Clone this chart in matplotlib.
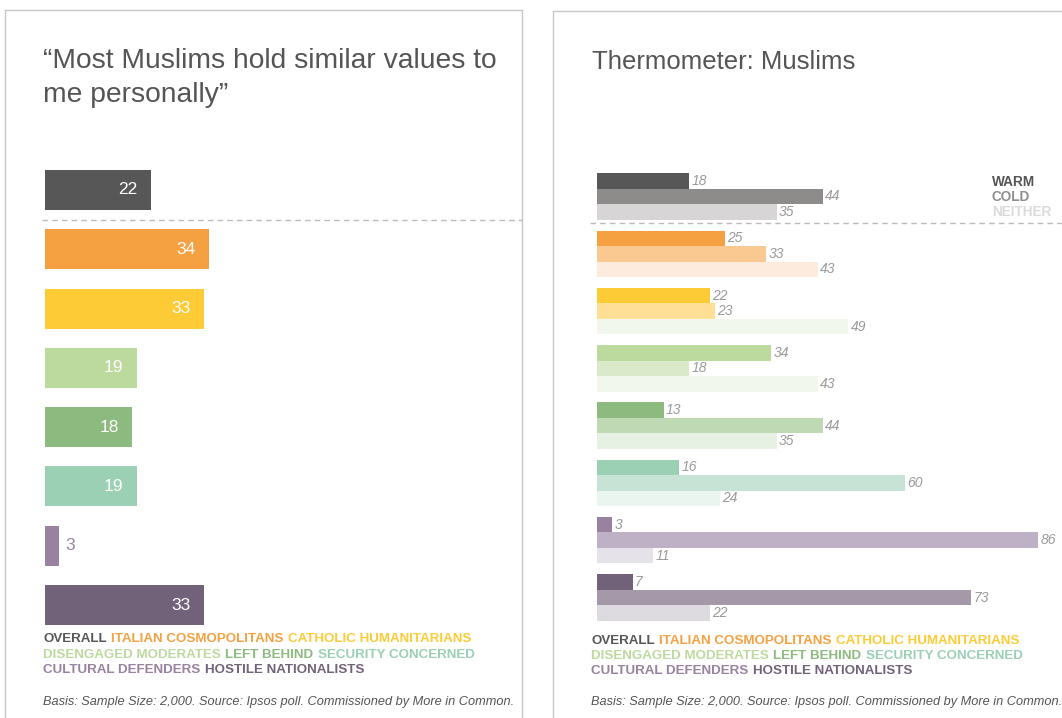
import matplotlib
matplotlib.use("Agg")
import matplotlib.pyplot as plt
from matplotlib.lines import Line2D

plt.rcParams["font.family"] = ["Liberation Sans", "DejaVu Sans"]

W, H = 1062, 718

# ---- data ----
segments = ["OVERALL", "ITALIAN COSMOPOLITANS", "CATHOLIC HUMANITARIANS",
            "DISENGAGED MODERATES", "LEFT BEHIND", "SECURITY CONCERNED",
            "CULTURAL DEFENDERS", "HOSTILE NATIONALISTS"]
similar_values = [22, 34, 33, 19, 18, 19, 3, 33]
warm = [18, 25, 22, 34, 13, 16, 3, 7]
cold = [44, 33, 23, 18, 44, 60, 86, 73]
neither = [35, 43, 49, 43, 35, 24, 11, 22]
legend_rows = [[0, 1, 2], [3, 4, 5], [6, 7]]
thermo_keys = ["WARM", "COLD", "NEITHER"]
left_title = ["\u201cMost Muslims hold similar values to", "me personally\u201d"]
right_title = "Thermometer: Muslims"
basis = "Basis: Sample Size: 2,000. Source: Ipsos poll. Commissioned by More in Common."

# ---- palette ----
seg_colors = ["#575757", "#F5A142", "#FDCB35", "#BDDA9E",
              "#8DBA7F", "#9BD0B5", "#9882A0", "#716279"]
cold_colors = ["#8E8C8B", "#FAC891", "#FEDF95", "#DBE9CB",
               "#BFD9B5", "#C7E3D5", "#BEB1C5", "#A598A8"]
neither_colors = ["#D7D5D6", "#FDECDD", "#F1F7EC", "#F1F7EC",
                  "#E6F0E3", "#EBF5F0", "#E6E2EA", "#DEDBE0"]
key_colors = ["#555555", "#8E8E8E", "#DADADA"]
text_grey = "#555555"
border = "#C8C8C8"


def fx(x):
    return x / W


def fy(y):
    return 1 - y / H


fig = plt.figure(figsize=(W / 100, H / 100), dpi=100)
fig.patch.set_facecolor("white")


def hline(x0, x1, y, **kw):
    fig.add_artist(Line2D([fx(x0), fx(x1)], [fy(y), fy(y)], transform=fig.transFigure, **kw))


def vline(x, y0, y1, **kw):
    fig.add_artist(Line2D([fx(x), fx(x)], [fy(y0), fy(y1)], transform=fig.transFigure, **kw))


# panel frames
for args in [(5, 10, 718), (522, 10, 718), (553, 11, 718)]:
    vline(*args, color=border, lw=1)
hline(5, 522, 10, color=border, lw=1)
hline(553, 1062, 11, color=border, lw=1)

# titles
for i, line in enumerate(left_title):
    fig.text(fx(43), fy(68 + 34 * i), line, fontsize=20.3, color=text_grey,
             va="baseline", ha="left")
fig.text(fx(592), fy(69), right_title, fontsize=18.5, color=text_grey,
         va="baseline", ha="left")

renderer = fig.canvas.get_renderer()


def legend_block(x0, y0, step):
    for r, row in enumerate(legend_rows):
        x = x0
        for i in row:
            t = fig.text(fx(x), fy(y0 + r * step), segments[i], fontsize=9.6,
                         fontweight="bold", color=seg_colors[i], va="center", ha="left")
            bb = t.get_window_extent(renderer)
            x += bb.width + 4.5


def footer(x0, y0):
    fig.text(fx(x0), fy(y0), basis, fontsize=9.2, style="italic", color=text_grey,
             va="center", ha="left")


# ---- left: single bars ----
px_unit_l = 4.82
step_l = 59.29
axl_left, axl_right, axl_top, axl_bot = 45, 522, 160, 630
axl = fig.add_axes([fx(axl_left), fy(axl_bot), fx(axl_right - axl_left), (axl_bot - axl_top) / H])
axl.set_xlim(0, (axl_right - axl_left) / px_unit_l)
y0_l = 190
axl.set_ylim(7 + (axl_bot - (y0_l + 7 * step_l)) / step_l, -(y0_l - axl_top) / step_l)
axl.axis("off")
ypos = list(range(len(segments)))
axl.barh(ypos, similar_values, height=40 / step_l, color=seg_colors, linewidth=0)
for y, v, c in zip(ypos, similar_values, seg_colors):
    if v >= 8:
        axl.annotate(str(v), (v, y), xytext=(-9.5, 0), textcoords="offset points",
                     ha="right", va="center", fontsize=12.5, color="white")
    else:
        axl.annotate(str(v), (v, y), xytext=(4.5, 0), textcoords="offset points",
                     ha="left", va="center", fontsize=12.5, color=c)
hline(42, 522, 220, color="#BBBBBB", lw=1, linestyle=(0, (4, 3)))

# ---- right: thermometer ----
px_unit_r = 5.13
step_r = 57.29
bar_h = 15.5 / step_r
axr_left, axr_right, axr_top, axr_bot = 597, 1062, 160, 630
axr = fig.add_axes([fx(axr_left), fy(axr_bot), fx(axr_right - axr_left), (axr_bot - axr_top) / H])
axr.set_xlim(0, (axr_right - axr_left) / px_unit_r)
y0_r = 196.5
axr.set_ylim(7 + (axr_bot - (y0_r + 7 * step_r)) / step_r, -(y0_r - axr_top) / step_r)
axr.axis("off")
series = [(warm, seg_colors, -bar_h), (cold, cold_colors, 0), (neither, neither_colors, bar_h)]
for vals, cols, off in series:
    ys = [g + off for g in ypos]
    axr.barh(ys, vals, height=bar_h, color=cols, linewidth=0)
    for y, v in zip(ys, vals):
        axr.annotate(str(v), (v, y), xytext=(1.5, 0), textcoords="offset points",
                     ha="left", va="center", fontsize=10, style="italic",
                     color="#9A9A9A", annotation_clip=False)
hline(590, 1062, 222.5, color="#BBBBBB", lw=1, linestyle=(0, (4, 3)))

for k, (name, c) in enumerate(zip(thermo_keys, key_colors)):
    fig.text(fx(992), fy(182 + 15 * k), name, fontsize=9.8, fontweight="bold",
             color=c, va="center", ha="left")

legend_block(43, 639, 15.5)
legend_block(591, 641, 15)
footer(43, 702)
footer(591, 702)

fig.savefig("out.png", dpi=100, facecolor="white")
